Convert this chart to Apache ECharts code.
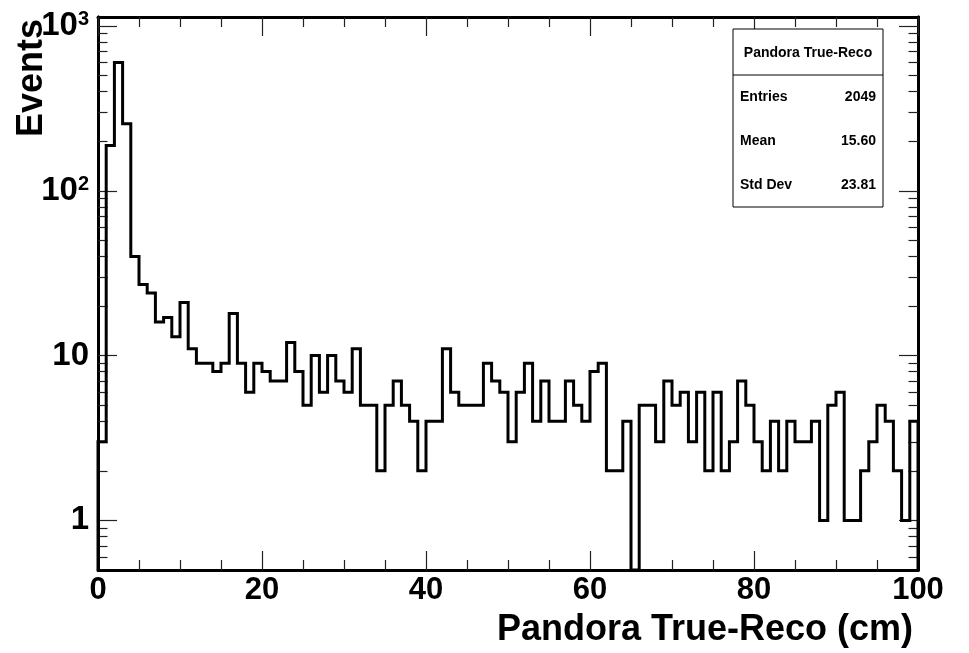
<!DOCTYPE html>
<html>
<head>
<meta charset="utf-8">
<title>Pandora True-Reco</title>
<script src="https://cdn.jsdelivr.net/npm/echarts@6/dist/echarts.min.js"></script>
<style>
  html, body { margin: 0; padding: 0; background: #fff; }
  #chart { width: 969px; height: 653px; }
</style>
</head>
<body>
<div id="chart"></div>
<script>
// histogram: 100 bins of 1 cm from 0 to 100
const binStart = 0;
const binWidth = 1;
const counts = [
  3, 188, 600, 255, 40, 27, 24, 16, 17, 13,
  21, 11, 9, 9, 8, 9, 18, 9, 6, 9,
  8, 7, 7, 12, 8, 5, 10, 6, 10, 7,
  6, 11, 5, 5, 2, 5, 7, 5, 4, 2,
  4, 4, 11, 6, 5, 5, 5, 9, 7, 6,
  3, 6, 9, 4, 7, 4, 4, 7, 5, 4,
  8, 9, 2, 2, 4, 0, 5, 5, 3, 7,
  5, 6, 3, 6, 2, 6, 2, 3, 7, 5,
  3, 2, 4, 2, 4, 3, 3, 4, 1, 5,
  6, 1, 1, 2, 3, 5, 4, 2, 1, 4
];

const yMin = 0.5;
const yMax = 1134;
const yMajorTicks = [1, 10, 100, 1000];
const yMajorLabels = ['1', '10', '10{sup|2}', '10{sup|3}'];
const yMinorTicks = [0.6, 0.7, 0.8, 0.9, 2, 3, 4, 5, 6, 7, 8, 9,
  20, 30, 40, 50, 60, 70, 80, 90, 200, 300, 400, 500, 600, 700, 800, 900];

const statTitle = 'Pandora True-Reco';
const statNames = ['Entries', 'Mean', 'Std Dev'];
const statValues = ['2049', '15.60', '23.81'];

const FONT = "'Liberation Sans', Arial, sans-serif";

// step line through bin edges; empty bins sit on the axis floor
const histPoints = [[binStart, yMin]];
counts.forEach((c, i) => histPoints.push([binStart + i * binWidth, Math.max(c, yMin)]));
const xEnd = binStart + counts.length * binWidth;
histPoints.push([xEnd, Math.max(counts[counts.length - 1], yMin)]);
histPoints.push([xEnd, yMin]);

const tickStyle = { color: '#222', width: 1.2 };
const frameLine = { show: true, onZero: false, lineStyle: { color: '#000', width: 3 } };

function xAxisCfg(position, showLabels) {
  return {
    type: 'value', position: position, min: 0, max: 100, interval: 20,
    axisLine: frameLine,
    axisTick: { inside: true, length: 19, lineStyle: tickStyle },
    minorTick: { show: true, splitNumber: 4, length: 10, lineStyle: tickStyle },
    axisLabel: {
      show: showLabels, margin: 5, color: '#000',
      fontFamily: FONT, fontWeight: 'bold', fontSize: 31
    },
    splitLine: { show: false }
  };
}

function yAxisCfg(position, ticks, len, showLabels) {
  return {
    type: 'log', logBase: 10, position: position, min: yMin, max: yMax,
    axisLine: frameLine,
    axisTick: { inside: true, length: len, customValues: ticks, lineStyle: tickStyle },
    axisLabel: {
      show: showLabels, customValues: yMajorTicks, margin: 9, color: '#000',
      fontFamily: FONT, fontWeight: 'bold', fontSize: 33,
      formatter: v => yMajorLabels[yMajorTicks.indexOf(Math.round(v))],
      rich: {
        sup: { fontFamily: FONT, fontWeight: 'bold', fontSize: 20, color: '#000', verticalAlign: 'top' }
      }
    },
    splitLine: { show: false }
  };
}

const chart = echarts.init(document.getElementById('chart'));

const statGraphics = [
  {
    type: 'rect', shape: { x: 733, y: 29, width: 150, height: 178 },
    style: { fill: '#fff', stroke: '#000', lineWidth: 1 }, z: 10
  },
  {
    type: 'line', shape: { x1: 733, y1: 75, x2: 883, y2: 75 },
    style: { stroke: '#000', lineWidth: 1 }, z: 11
  },
  {
    type: 'text', x: 808, y: 53, z: 11,
    style: { text: statTitle, fill: '#000', font: 'bold 14px ' + FONT, textAlign: 'center', textVerticalAlign: 'middle' }
  }
];
statNames.forEach((name, i) => {
  const y = 97 + i * 44;
  statGraphics.push({
    type: 'text', x: 740, y: y, z: 11,
    style: { text: name, fill: '#000', font: 'bold 14px ' + FONT, textAlign: 'left', textVerticalAlign: 'middle' }
  });
  statGraphics.push({
    type: 'text', x: 876, y: y, z: 11,
    style: { text: statValues[i], fill: '#000', font: 'bold 14px ' + FONT, textAlign: 'right', textVerticalAlign: 'middle' }
  });
});

chart.setOption({
  animation: false,
  backgroundColor: '#fff',
  grid: { left: 98, right: 51, top: 17, bottom: 83, containLabel: false },
  xAxis: [xAxisCfg('bottom', true), xAxisCfg('top', false)],
  yAxis: [
    yAxisCfg('left', yMajorTicks, 19, true),
    yAxisCfg('left', yMinorTicks, 9.5, false),
    yAxisCfg('right', yMajorTicks, 19, false),
    yAxisCfg('right', yMinorTicks, 9.5, false)
  ],
  series: [{
    type: 'line',
    step: 'end',
    data: histPoints,
    xAxisIndex: 0,
    yAxisIndex: 0,
    symbol: 'none',
    clip: true,
    lineStyle: { color: '#000', width: 3, join: 'miter', cap: 'butt' },
    z: 3
  }],
  graphic: [
    {
      type: 'text', x: 32, y: 78, rotation: Math.PI / 2,
      style: { text: 'Events', fill: '#000', font: 'bold 36px ' + FONT, textAlign: 'center', textVerticalAlign: 'middle' }
    },
    {
      type: 'text', x: 913, y: 630,
      style: { text: 'Pandora True-Reco (cm)', fill: '#000', font: 'bold 36px ' + FONT, textAlign: 'right', textVerticalAlign: 'middle' }
    }
  ].concat(statGraphics)
});
</script>
</body>
</html>
